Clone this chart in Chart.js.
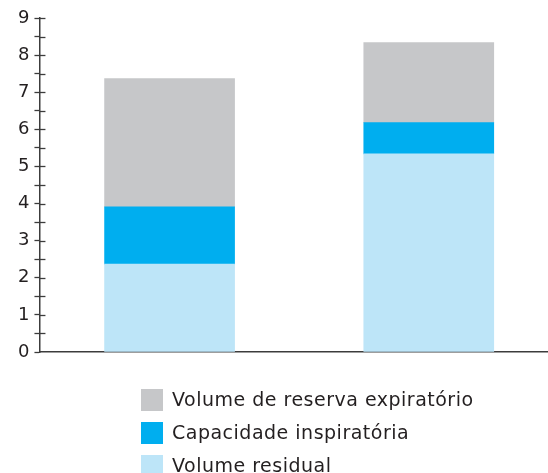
<!DOCTYPE html>
<html>
<head>
<meta charset="utf-8">
<script src="https://cdn.jsdelivr.net/npm/chart.js@4.4.0/dist/chart.umd.min.js"></script>
<style>
    html, body { margin: 0; padding: 0; background: #fff; }
    #wrap { width: 548px; height: 473px; position: relative; }
</style>
</head>
<body>
<div id="wrap"><canvas id="chart"></canvas></div>
<script>
// bar positions along the x axis (two conditions, no labels shown)
const barPositions = [1, 2];

// stacked volumes (litres)
const residualVolume = [2.37, 5.34];
const inspiratoryCapacity = [1.54, 0.84];
const expiratoryReserve = [3.46, 2.16];

const seriesLabels = ['Volume residual', 'Capacidade inspiratória', 'Volume de reserva expiratório'];
const seriesColors = ['#bde5f8', '#00aeef', '#c6c7c9'];

const yMin = 0;
const yMax = 9;
const yStep = 0.5;

const textColor = '#231f20';
const axisColor = '#3c3c3c';
const fontFamily = '"DejaVu Sans", Arial, sans-serif';

function toPoints(values) {
    return values.map((v, i) => ({x: barPositions[i], y: v}));
}

// small inner half of the y ticks (they cross the axis line)
const innerTicks = {
    id: 'innerTicks',
    afterDatasetsDraw(chart) {
        const scale = chart.scales.y;
        const ctx = chart.ctx;
        ctx.save();
        ctx.strokeStyle = axisColor;
        ctx.lineWidth = 1.3;
        scale.ticks.forEach(t => {
            if (t.value === yMin) return;
            const py = Math.round(scale.getPixelForValue(t.value)) + 0.5;
            ctx.beginPath();
            ctx.moveTo(scale.right, py);
            ctx.lineTo(scale.right + 6, py);
            ctx.stroke();
        });
        ctx.restore();
    }
};

// legend as a single column under the plot, top series first
const columnLegend = {
    id: 'columnLegend',
    afterDraw(chart) {
        const ctx = chart.ctx;
        const items = chart.data.datasets.slice().reverse();
        ctx.save();
        ctx.font = '19px ' + fontFamily;
        ctx.letterSpacing = '0.5px';
        ctx.textBaseline = 'middle';
        items.forEach((ds, i) => {
            const y = 400 + i * 33;
            ctx.fillStyle = ds.backgroundColor;
            ctx.fillRect(141, y - 11, 22, 22);
            ctx.fillStyle = textColor;
            ctx.fillText(ds.label, 172, y + 1);
        });
        ctx.restore();
    }
};

const ctx = document.getElementById('chart').getContext('2d');

const data = {
    datasets: [{
        label: seriesLabels[0],
        data: toPoints(residualVolume),
        backgroundColor: seriesColors[0],
        borderWidth: 0
    }, {
        label: seriesLabels[1],
        data: toPoints(inspiratoryCapacity),
        backgroundColor: seriesColors[1],
        borderWidth: 0
    }, {
        label: seriesLabels[2],
        data: toPoints(expiratoryReserve),
        backgroundColor: seriesColors[2],
        borderWidth: 0
    }]
};

const options = {
    responsive: true,
    maintainAspectRatio: false,
    animation: false,
    barThickness: 130,
    layout: {
        padding: {top: 18, left: 13, right: 0, bottom: 121}
    },
    scales: {
        x: {
            type: 'linear',
            stacked: true,
            offset: false,
            min: 0.498,
            max: 2.46,
            ticks: {display: false},
            grid: {display: false, drawTicks: false},
            border: {display: true, color: axisColor, width: 1.5}
        },
        y: {
            stacked: true,
            min: yMin,
            max: yMax,
            ticks: {
                stepSize: yStep,
                autoSkip: false,
                padding: 5,
                color: textColor,
                font: {family: fontFamily, size: 18},
                callback: function (value) {
                    return Number.isInteger(value) ? String(value) : '';
                }
            },
            grid: {
                drawOnChartArea: false,
                drawTicks: true,
                tickLength: 5,
                tickWidth: 1.3,
                color: axisColor
            },
            border: {display: true, color: axisColor, width: 1.5}
        }
    },
    plugins: {
        legend: {display: false},
        tooltip: {enabled: false}
    }
};

new Chart(ctx, {
    type: 'bar',
    data: data,
    options: options,
    plugins: [innerTicks, columnLegend]
});
</script>
</body>
</html>
